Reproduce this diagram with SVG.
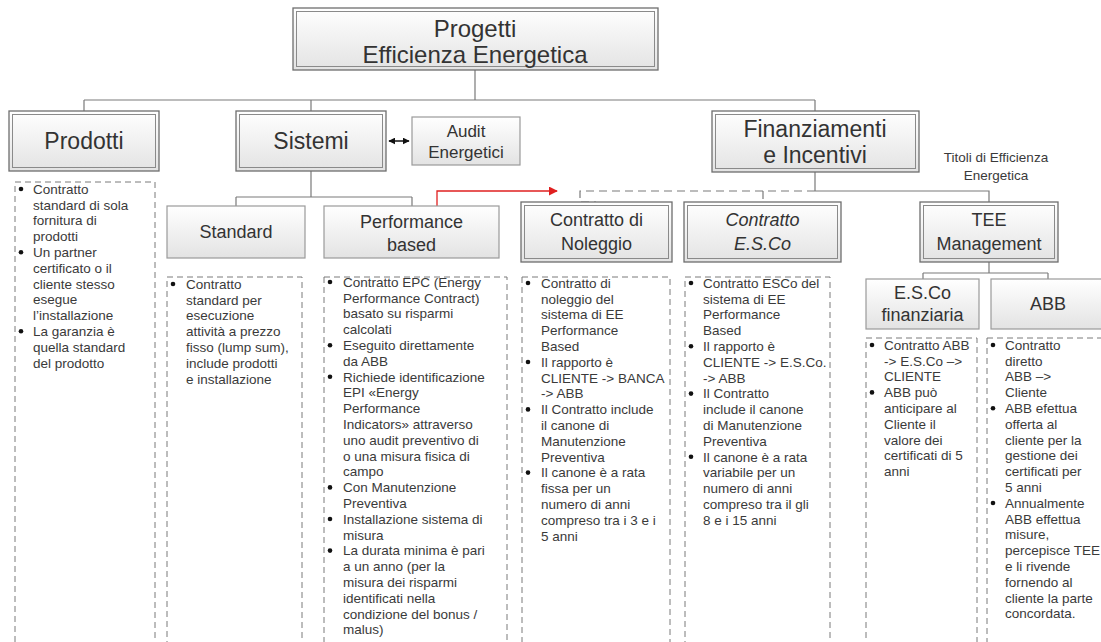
<svg xmlns="http://www.w3.org/2000/svg" width="1101" height="642" viewBox="0 0 1101 642">
<defs>
<linearGradient id="g" x1="0" y1="0" x2="0" y2="1">
<stop offset="0" stop-color="#ffffff"/>
<stop offset="1" stop-color="#e3e3e3"/>
</linearGradient>
<marker id="ar" viewBox="0 0 10 10" refX="9" refY="5" markerWidth="9" markerHeight="9" markerUnits="userSpaceOnUse" orient="auto"><path d="M0,0 L10,5 L0,10 z" fill="#e02020"/></marker>
<marker id="ab" viewBox="0 0 10 10" refX="9" refY="5" markerWidth="7" markerHeight="7" markerUnits="userSpaceOnUse" orient="auto-start-reverse"><path d="M0,0 L10,5 L0,10 z" fill="#111"/></marker>
</defs>
<style>
text{font-family:"Liberation Sans",Arial,sans-serif}
.hd{fill:#333;text-anchor:middle}
.h0{font-size:24px}
.h1{font-size:23px}
.h2{font-size:18px}
.h3{font-size:17px}
.it{font-style:italic}
.li{font-size:13.5px;fill:#3a3a3a}
.tt{font-size:13.5px;fill:#3a3a3a;text-anchor:middle}
.box{fill:url(#g);stroke:#6e6e6e;stroke-width:1.3}
.inn{fill:none;stroke:#8a8a8a;stroke-width:1}
.sbox{fill:url(#g);stroke:#9a9a9a;stroke-width:1.2}
.list{fill:none;stroke:#7a7a7a;stroke-width:1;stroke-dasharray:6 4}
.conn{fill:none;stroke:#7a7a7a;stroke-width:1.2}
.dconn{fill:none;stroke:#7a7a7a;stroke-width:1.2;stroke-dasharray:8 5}
.red{fill:none;stroke:#e02020;stroke-width:1.3}
.blk{fill:none;stroke:#111;stroke-width:1.5}
.bul{fill:#111}
</style>
<rect width="1101" height="642" fill="#ffffff"/>

<g id="connectors">
<path class="conn" d="M475,70 V100 M84,100 H815 M84,100 V111 M311,100 V111 M815,100 V111"/>
<path class="conn" d="M311,171 V197 M236,197 H412 M236,197 V206 M412,197 V206"/>
<path class="blk" d="M389,141 H409" marker-start="url(#ab)" marker-end="url(#ab)"/>
<path class="red" d="M437,206 V191 H557" marker-end="url(#ar)"/>
<path class="conn" d="M815,172 V191 M815,191 H989 V202"/>
<path class="dconn" d="M815,191 H580 V202 H596 M763,191 V202"/>
<path class="conn" d="M989,262 V273 M923,273 H1048 M923,273 V279 M1048,273 V279"/>
</g>

<g id="progetti">
<rect class="box" x="293" y="8" width="365" height="62"/>
<rect class="inn" x="296.5" y="11.5" width="358" height="55"/>
<text class="hd h0" x="475" y="37">Progetti</text>
<text class="hd h0" x="475" y="63">Efficienza Energetica</text>
</g>

<g id="prodotti">
<rect class="box" x="9" y="111" width="150" height="60"/>
<rect class="inn" x="12.5" y="114.5" width="143" height="53"/>
<text class="hd h1" x="84" y="149">Prodotti</text>
</g>

<g id="sistemi">
<rect class="box" x="236" y="111" width="150" height="60"/>
<rect class="inn" x="239.5" y="114.5" width="143" height="53"/>
<text class="hd h1" x="311" y="149">Sistemi</text>
</g>

<g id="audit">
<rect class="sbox" x="412" y="117" width="108" height="48"/>
<text class="hd h3" x="466" y="137">Audit</text>
<text class="hd h3" x="466" y="158">Energetici</text>
</g>

<g id="finanziamenti">
<rect class="box" x="712" y="111" width="207" height="61"/>
<rect class="inn" x="715.5" y="114.5" width="200" height="54"/>
<text class="hd h1" x="815" y="137">Finanziamenti</text>
<text class="hd h1" x="815" y="163">e Incentivi</text>
</g>

<g id="titoli">
<text class="tt" x="996" y="162">Titoli di Efficienza</text>
<text class="tt" x="996" y="180">Energetica</text>
</g>

<g id="standard">
<rect class="sbox" x="167" y="206" width="138" height="52"/>
<text class="hd h2" x="236" y="238">Standard</text>
</g>

<g id="performance">
<rect class="sbox" x="324" y="206" width="175" height="52"/>
<text class="hd h2" x="411.5" y="228">Performance</text>
<text class="hd h2" x="411.5" y="251">based</text>
</g>

<g id="noleggio">
<rect class="box" x="521" y="202" width="151" height="60"/>
<rect class="inn" x="524.5" y="205.5" width="144" height="53"/>
<text class="hd h2" x="596.5" y="226">Contratto di</text>
<text class="hd h2" x="596.5" y="250">Noleggio</text>
</g>

<g id="esco">
<rect class="box" x="684" y="202" width="157" height="60"/>
<rect class="inn" x="687.5" y="205.5" width="150" height="53"/>
<text class="hd h2 it" x="762.5" y="226">Contratto</text>
<text class="hd h2 it" x="762.5" y="250">E.S.Co</text>
</g>

<g id="tee">
<rect class="box" x="920" y="202" width="138" height="60"/>
<rect class="inn" x="923.5" y="205.5" width="131" height="53"/>
<text class="hd h2" x="989" y="226">TEE</text>
<text class="hd h2" x="989" y="250">Management</text>
</g>

<g id="esco-finanziaria">
<rect class="sbox" x="866" y="279" width="113" height="50"/>
<text class="hd h2" x="922.5" y="299">E.S.Co</text>
<text class="hd h2" x="922.5" y="321">finanziaria</text>
</g>

<g id="abb">
<rect class="sbox" x="991" y="279" width="114" height="50"/>
<text class="hd h2" x="1048" y="310">ABB</text>
</g>

<g id="list-prodotti">
<rect class="list" x="15" y="182" width="140" height="480"/>
<circle class="bul" cx="21" cy="189" r="2.3"/>
<circle class="bul" cx="21" cy="252.2" r="2.3"/>
<circle class="bul" cx="21" cy="331.2" r="2.3"/>
<text class="li" x="33" y="193.7"><tspan x="33">Contratto</tspan><tspan x="33" dy="15.8">standard di sola</tspan><tspan x="33" dy="15.8">fornitura di</tspan><tspan x="33" dy="15.8">prodotti</tspan><tspan x="33" dy="15.8">Un partner</tspan><tspan x="33" dy="15.8">certificato o il</tspan><tspan x="33" dy="15.8">cliente stesso</tspan><tspan x="33" dy="15.8">esegue</tspan><tspan x="33" dy="15.8">l’installazione</tspan><tspan x="33" dy="15.8">La garanzia è</tspan><tspan x="33" dy="15.8">quella standard</tspan><tspan x="33" dy="15.8">del prodotto</tspan></text>
</g>

<g id="list-standard">
<rect class="list" x="167" y="277" width="135" height="385"/>
<circle class="bul" cx="173" cy="284" r="2.3"/>
<text class="li" x="186" y="288.7"><tspan x="186">Contratto</tspan><tspan x="186" dy="15.8">standard per</tspan><tspan x="186" dy="15.8">esecuzione</tspan><tspan x="186" dy="15.8">attività a prezzo</tspan><tspan x="186" dy="15.8">fisso (lump sum),</tspan><tspan x="186" dy="15.8">include prodotti</tspan><tspan x="186" dy="15.8">e installazione</tspan></text>
</g>

<g id="list-performance">
<rect class="list" x="324" y="277" width="183" height="385"/>
<circle class="bul" cx="330" cy="282" r="2.3"/>
<circle class="bul" cx="330" cy="345.2" r="2.3"/>
<circle class="bul" cx="330" cy="376.8" r="2.3"/>
<circle class="bul" cx="330" cy="487.4" r="2.3"/>
<circle class="bul" cx="330" cy="519" r="2.3"/>
<circle class="bul" cx="330" cy="550.6" r="2.3"/>
<text class="li" x="343" y="286.7"><tspan x="343">Contratto EPC (Energy</tspan><tspan x="343" dy="15.8">Performance Contract)</tspan><tspan x="343" dy="15.8">basato su risparmi</tspan><tspan x="343" dy="15.8">calcolati</tspan><tspan x="343" dy="15.8">Eseguito direttamente</tspan><tspan x="343" dy="15.8">da ABB</tspan><tspan x="343" dy="15.8">Richiede identificazione</tspan><tspan x="343" dy="15.8">EPI «Energy</tspan><tspan x="343" dy="15.8">Performance</tspan><tspan x="343" dy="15.8">Indicators» attraverso</tspan><tspan x="343" dy="15.8">uno audit preventivo di</tspan><tspan x="343" dy="15.8">o una misura fisica di</tspan><tspan x="343" dy="15.8">campo</tspan><tspan x="343" dy="15.8">Con Manutenzione</tspan><tspan x="343" dy="15.8">Preventiva</tspan><tspan x="343" dy="15.8">Installazione sistema di</tspan><tspan x="343" dy="15.8">misura</tspan><tspan x="343" dy="15.8">La durata minima è pari</tspan><tspan x="343" dy="15.8">a un anno (per la</tspan><tspan x="343" dy="15.8">misura dei risparmi</tspan><tspan x="343" dy="15.8">identificati nella</tspan><tspan x="343" dy="15.8">condizione del bonus /</tspan><tspan x="343" dy="15.8">malus)</tspan></text>
</g>

<g id="list-noleggio">
<rect class="list" x="522" y="277" width="148" height="385"/>
<circle class="bul" cx="528" cy="283" r="2.3"/>
<circle class="bul" cx="528" cy="362" r="2.3"/>
<circle class="bul" cx="528" cy="409.4" r="2.3"/>
<circle class="bul" cx="528" cy="472.6" r="2.3"/>
<text class="li" x="541" y="287.7"><tspan x="541">Contratto di</tspan><tspan x="541" dy="15.8">noleggio del</tspan><tspan x="541" dy="15.8">sistema di EE</tspan><tspan x="541" dy="15.8">Performance</tspan><tspan x="541" dy="15.8">Based</tspan><tspan x="541" dy="15.8">Il rapporto è</tspan><tspan x="541" dy="15.8">CLIENTE -&gt; BANCA</tspan><tspan x="541" dy="15.8">-&gt; ABB</tspan><tspan x="541" dy="15.8">Il Contratto include</tspan><tspan x="541" dy="15.8">il canone di</tspan><tspan x="541" dy="15.8">Manutenzione</tspan><tspan x="541" dy="15.8">Preventiva</tspan><tspan x="541" dy="15.8">Il canone è a rata</tspan><tspan x="541" dy="15.8">fissa per un</tspan><tspan x="541" dy="15.8">numero di anni</tspan><tspan x="541" dy="15.8">compreso tra i 3 e i</tspan><tspan x="541" dy="15.8">5 anni</tspan></text>
</g>

<g id="list-esco">
<rect class="list" x="685" y="277" width="145" height="385"/>
<circle class="bul" cx="691" cy="283" r="2.3"/>
<circle class="bul" cx="691" cy="346.2" r="2.3"/>
<circle class="bul" cx="691" cy="393.6" r="2.3"/>
<circle class="bul" cx="691" cy="456.8" r="2.3"/>
<text class="li" x="703" y="287.7"><tspan x="703">Contratto ESCo del</tspan><tspan x="703" dy="15.8">sistema di EE</tspan><tspan x="703" dy="15.8">Performance</tspan><tspan x="703" dy="15.8">Based</tspan><tspan x="703" dy="15.8">Il rapporto è</tspan><tspan x="703" dy="15.8">CLIENTE -&gt; E.S.Co.</tspan><tspan x="703" dy="15.8">-&gt; ABB</tspan><tspan x="703" dy="15.8">Il Contratto</tspan><tspan x="703" dy="15.8">include il canone</tspan><tspan x="703" dy="15.8">di Manutenzione</tspan><tspan x="703" dy="15.8">Preventiva</tspan><tspan x="703" dy="15.8">Il canone è a rata</tspan><tspan x="703" dy="15.8">variabile per un</tspan><tspan x="703" dy="15.8">numero di anni</tspan><tspan x="703" dy="15.8">compreso tra il gli</tspan><tspan x="703" dy="15.8">8 e i 15 anni</tspan></text>
</g>

<g id="list-esco-finanziaria">
<rect class="list" x="866" y="338" width="111" height="324"/>
<circle class="bul" cx="872" cy="345" r="2.3"/>
<circle class="bul" cx="872" cy="392.4" r="2.3"/>
<text class="li" x="884" y="349.7"><tspan x="884">Contratto ABB</tspan><tspan x="884" dy="15.8">-&gt; E.S.Co –&gt;</tspan><tspan x="884" dy="15.8">CLIENTE</tspan><tspan x="884" dy="15.8">ABB può</tspan><tspan x="884" dy="15.8">anticipare al</tspan><tspan x="884" dy="15.8">Cliente il</tspan><tspan x="884" dy="15.8">valore dei</tspan><tspan x="884" dy="15.8">certificati di 5</tspan><tspan x="884" dy="15.8">anni</tspan></text>
</g>

<g id="list-abb">
<rect class="list" x="987" y="338" width="124" height="324"/>
<circle class="bul" cx="993" cy="345" r="2.3"/>
<circle class="bul" cx="993" cy="408.2" r="2.3"/>
<circle class="bul" cx="993" cy="503" r="2.3"/>
<text class="li" x="1005" y="349.7"><tspan x="1005">Contratto</tspan><tspan x="1005" dy="15.8">diretto</tspan><tspan x="1005" dy="15.8">ABB –&gt;</tspan><tspan x="1005" dy="15.8">Cliente</tspan><tspan x="1005" dy="15.8">ABB efettua</tspan><tspan x="1005" dy="15.8">offerta al</tspan><tspan x="1005" dy="15.8">cliente per la</tspan><tspan x="1005" dy="15.8">gestione dei</tspan><tspan x="1005" dy="15.8">certificati per</tspan><tspan x="1005" dy="15.8">5 anni</tspan><tspan x="1005" dy="15.8">Annualmente</tspan><tspan x="1005" dy="15.8">ABB effettua</tspan><tspan x="1005" dy="15.8">misure,</tspan><tspan x="1005" dy="15.8">percepisce TEE</tspan><tspan x="1005" dy="15.8">e li rivende</tspan><tspan x="1005" dy="15.8">fornendo al</tspan><tspan x="1005" dy="15.8">cliente la parte</tspan><tspan x="1005" dy="15.8">concordata.</tspan></text>
</g>
</svg>
